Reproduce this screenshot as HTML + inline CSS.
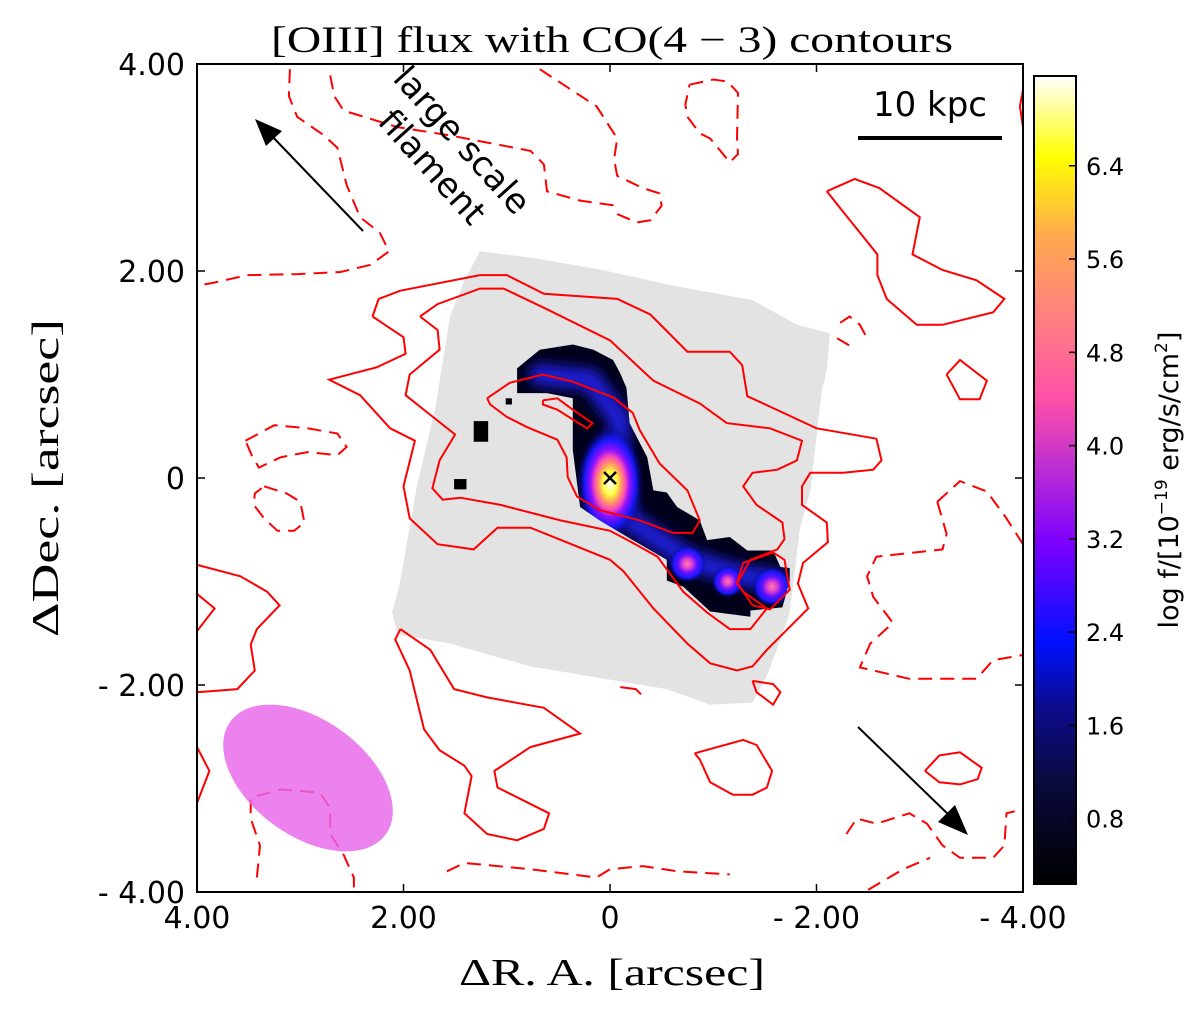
<!DOCTYPE html>
<html><head><meta charset="utf-8"><style>
html,body{margin:0;padding:0;background:#fff;}
svg{display:block;}
text{font-family:"DejaVu Sans","Liberation Sans",sans-serif;}
.serif{font-family:"Liberation Serif","DejaVu Serif",serif;}
</style></head><body>
<svg id="chart" width="1200" height="1018" viewBox="0 0 1200 1018" xmlns="http://www.w3.org/2000/svg">
<defs>
<linearGradient id="cbgrad" x1="0" y1="1" x2="0" y2="0">
<stop offset="0" stop-color="#000000"/>
<stop offset="0.13" stop-color="#0a0a40"/>
<stop offset="0.22" stop-color="#0c0c90"/>
<stop offset="0.3" stop-color="#0010ff"/>
<stop offset="0.42" stop-color="#7a00ff"/>
<stop offset="0.52" stop-color="#c030d0"/>
<stop offset="0.6" stop-color="#ff50a8"/>
<stop offset="0.7" stop-color="#ff8080"/>
<stop offset="0.8" stop-color="#ffa850"/>
<stop offset="0.9" stop-color="#ffff00"/>
<stop offset="1" stop-color="#ffffff"/>
</linearGradient>
<radialGradient id="knotgrad">
<stop offset="0" stop-color="#ffffff"/>
<stop offset="0.2" stop-color="#ffff40"/>
<stop offset="0.33" stop-color="#ffa060"/>
<stop offset="0.45" stop-color="#ff50b0"/>
<stop offset="0.58" stop-color="#9010ff"/>
<stop offset="0.75" stop-color="#1818ff"/>
<stop offset="1" stop-color="#000060" stop-opacity="0"/>
</radialGradient>
<radialGradient id="knotgrad2">
<stop offset="0" stop-color="#ff80a0"/>
<stop offset="0.25" stop-color="#e040d0"/>
<stop offset="0.5" stop-color="#6010ff"/>
<stop offset="0.75" stop-color="#1818ff"/>
<stop offset="1" stop-color="#000060" stop-opacity="0"/>
</radialGradient>
<filter id="blur6"><feGaussianBlur stdDeviation="6"/></filter>
<clipPath id="plotclip"><rect x="197" y="64" width="826" height="828"/></clipPath>
<clipPath id="blobclip"><path id="blobclippath" d=""/></clipPath>
</defs>
<g id="plot" clip-path="url(#plotclip)"></g>
<g id="overlay"></g>
</svg>
<script>
// ---- data (arcsec: [dRA, dDec]) ----
const maskRegion = [[1.26,2.19],[0.77,2.13],[0.07,2.01],[-0.65,1.85],[-1.38,1.72],[-1.81,1.48],[-2.13,1.40],[-2.10,1.04],[-2.05,0.84],[-1.94,-0.13],[-1.84,-0.48],[-1.74,-1.30],[-1.67,-1.51],[-1.52,-1.91],[-1.38,-2.17],[-0.97,-2.19],[-0.55,-2.04],[-0.07,-1.96],[0.77,-1.82],[1.16,-1.71],[1.55,-1.60],[2.06,-1.51],[2.11,-1.30],[2.04,-1.04],[1.87,-0.08],[1.69,0.69],[1.55,1.56],[1.41,1.91]];
const emissionRegion = [[0.90,1.06],[0.68,1.24],[0.36,1.29],[0.16,1.24],[-0.03,1.14],[-0.10,1.01],[-0.16,0.87],[-0.19,0.53],[-0.36,0.20],[-0.42,-0.12],[-0.55,-0.14],[-0.65,-0.28],[-0.87,-0.41],[-0.94,-0.60],[-1.16,-0.57],[-1.33,-0.70],[-1.58,-0.70],[-1.65,-0.86],[-1.74,-0.87],[-1.74,-0.99],[-1.67,-1.25],[-1.36,-1.28],[-1.36,-1.34],[-0.97,-1.29],[-0.71,-1.05],[-0.55,-0.99],[-0.55,-0.79],[-0.22,-0.60],[0.10,-0.41],[0.29,-0.28],[0.36,0.27],[0.36,0.69],[0.36,0.77],[0.61,0.82],[0.90,0.82]];
const emissionRidge = [[0.68,1.00],[0.19,0.95],[-0.10,0.56],[-0.05,0.08],[-0.19,-0.41],[-0.77,-0.79],[-1.26,-0.94],[-1.60,-0.99]];
const emissionSpecks = [[1.25,0.45],[1.45,-0.06],[0.98,0.74]];
const speckSize = [[0.14,0.2],[0.12,0.1],[0.06,0.06]];
const knotRA = [0.0, -0.75, -1.14, -1.57];
const knotDec = [-0.05, -0.83, -1.00, -1.05];
const knotPeak = [7.0, 4.4, 3.4, 4.9];
const cbTicks = [0.8, 1.6, 2.4, 3.2, 4.0, 4.8, 5.6, 6.4];
const cbMin = 0.24, cbMax = 7.17;
const xTicks = [4, 2, 0, -2, -4];
const xTickLabels = ["4.00", "2.00", "0", "- 2.00", "- 4.00"];
const yTicks = [4, 2, 0, -2, -4];
const yTickLabels = ["4.00", "2.00", "0", "- 2.00", "- 4.00"];

const solidContours = [
 [[2.30,1.56],[2.24,1.73],[2.03,1.81],[1.26,1.96],[1.00,1.96],[0.64,1.78],[-0.07,1.73],[-0.39,1.58],[-0.75,1.22],[-1.16,1.22],[-1.28,1.09],[-1.33,0.79],[-1.55,0.69],[-2.00,0.48],[-2.58,0.38],[-2.63,0.17],[-2.55,0.08],[-2.26,0.05],[-1.94,0.05],[-1.86,-0.08],[-1.86,-0.26],[-2.10,-0.43],[-2.11,-0.62],[-1.87,-0.82],[-1.82,-1.02],[-1.92,-1.26],[-1.67,-1.51],[-1.52,-1.66],[-1.38,-1.82],[-1.23,-1.86],[-0.97,-1.79],[-0.75,-1.60],[-0.42,-1.26],[-0.13,-0.90],[0,-0.79],[0.77,-0.48],[1.09,-0.48],[1.32,-0.69],[1.67,-0.64],[1.94,-0.39],[2.00,-0.08],[1.89,0.36],[2.13,0.48],[2.42,0.80],[2.72,0.95],[2.26,1.07],[1.98,1.20],[2.00,1.36],[2.30,1.56]],
 [[1.84,1.56],[1.67,1.68],[1.26,1.83],[1.03,1.83],[0.61,1.63],[0,1.33],[-0.42,0.94],[-0.87,0.72],[-1.13,0.53],[-1.55,0.48],[-1.86,0.36],[-1.81,0.17],[-1.62,0.08],[-1.38,0.05],[-1.29,-0.08],[-1.42,-0.26],[-1.67,-0.43],[-1.69,-0.59],[-1.62,-0.69],[-1.36,-0.79],[-1.23,-1.02],[-1.29,-1.10],[-1.52,-1.26],[-1.36,-1.46],[-1.16,-1.46],[-0.94,-1.30],[-0.71,-1.10],[-0.46,-0.76],[-0.19,-0.61],[0,-0.51],[0.48,-0.41],[1.06,-0.26],[1.45,-0.19],[1.62,-0.21],[1.72,-0.10],[1.65,0.17],[1.50,0.42],[1.74,0.61],[1.98,0.80],[1.94,1.00],[1.65,1.24],[1.67,1.43],[1.84,1.56]],
 [[1.19,0.77],[0.97,0.92],[0.65,1.00],[0.36,0.93],[-0.03,0.78],[-0.22,0.63],[-0.29,0.46],[-0.48,0.14],[-0.75,-0.12],[-0.87,-0.41],[-0.80,-0.53],[-0.61,-0.53],[-0.29,-0.41],[0.10,-0.31],[0.32,-0.18],[0.41,0.01],[0.42,0.20],[0.51,0.37],[0.80,0.49],[1.00,0.59],[1.16,0.71],[1.19,0.77]],
 [[0.65,0.75],[0.51,0.77],[0.36,0.66],[0.17,0.53],[0.22,0.48],[0.32,0.54],[0.51,0.66],[0.65,0.71],[0.65,0.75]],
 [[-1.23,-1.01],[-1.29,-0.82],[-1.58,-0.72],[-1.69,-0.79],[-1.74,-1.08],[-1.55,-1.27],[-1.38,-1.23],[-1.23,-1.01]],
 [[-2.10,2.77],[-2.37,2.89],[-2.61,2.80],[-3.00,2.52],[-2.93,2.16],[-3.22,2.01],[-3.55,1.91],[-3.82,1.73],[-3.71,1.60],[-3.22,1.48],[-2.97,1.48],[-2.68,1.73],[-2.59,1.96],[-2.59,2.16],[-2.26,2.57],[-2.10,2.77]],
 [[-3.26,1.00],[-3.39,1.14],[-3.65,0.94],[-3.58,0.76],[-3.39,0.76],[-3.26,1.00]],
 [[-0.82,-2.66],[-1.29,-2.53],[-1.42,-2.58],[-1.57,-2.83],[-1.52,-2.99],[-1.38,-3.06],[-1.19,-3.06],[-0.97,-2.94],[-0.87,-2.72],[-0.82,-2.66]],
 [[-1.38,-1.96],[-1.58,-1.99],[-1.65,-2.07],[-1.58,-2.19],[-1.42,-2.07],[-1.38,-1.96]],
 [[-3.05,-2.83],[-3.19,-2.68],[-3.39,-2.65],[-3.60,-2.80],[-3.56,-2.91],[-3.39,-2.96],[-3.19,-2.94],[-3.05,-2.83]],
 [[4.0,-0.84],[3.58,-0.95],[3.32,-1.10],[3.20,-1.23],[3.42,-1.46],[3.48,-1.61],[3.44,-1.86],[3.61,-2.04],[4.0,-2.07]],
 [[4.0,-1.12],[3.83,-1.26],[4.0,-1.48]],
 [[4.0,-2.60],[3.88,-2.83],[4.0,-3.14]],
 [[2.03,-1.46],[2.08,-1.56],[1.94,-1.86],[1.80,-2.43],[1.65,-2.63],[1.41,-2.78],[1.34,-2.88],[1.41,-3.24],[1.19,-3.44],[0.90,-3.50],[0.64,-3.39],[0.59,-3.24],[1.09,-2.99],[1.12,-2.83],[0.77,-2.60],[0.29,-2.47],[0.64,-2.22],[1.19,-2.12],[1.51,-2.04],[1.74,-1.66],[2.03,-1.46]],
 [[-4.0,3.75],[-3.97,3.59],[-4.0,3.39]],
 [[-0.10,-2.02],[-0.25,-2.04],[-0.30,-2.09]]
];
const dashedContours = [
 [[3.10,3.95],[3.11,3.69],[3.03,3.49],[2.77,3.31],[2.64,3.19],[2.55,2.83],[2.42,2.52],[2.23,2.37],[2.14,2.19],[2.32,2.06],[2.61,1.99],[3.03,1.97],[3.51,1.96],[3.87,1.88],[4.0,1.86]],
 [[2.71,3.89],[2.67,3.69],[2.58,3.55],[2.06,3.39],[1.55,3.31],[0.77,3.16],[0.64,3.03],[0.61,2.77],[0.29,2.68],[-0.07,2.63]],
 [[0.68,3.95],[0.45,3.80],[0.13,3.59],[-0.07,3.28],[-0.04,3.08],[-0.07,2.92],[-0.32,2.80],[-0.48,2.75],[-0.50,2.63],[-0.39,2.49],[-0.26,2.47],[-0.07,2.55]],
 [[-0.77,3.80],[-1.00,3.85],[-1.14,3.83],[-1.24,3.72],[-1.23,3.28],[-1.24,3.13],[-1.16,3.05],[-0.97,3.28],[-0.87,3.33],[-0.75,3.49],[-0.73,3.61],[-0.77,3.80]],
 [[3.53,0.36],[3.25,0.51],[2.93,0.48],[2.64,0.43],[2.55,0.30],[2.64,0.22],[2.93,0.25],[3.19,0.20],[3.40,0.10],[3.47,0.22],[3.53,0.36]],
 [[3.35,-0.08],[3.13,-0.15],[3.00,-0.23],[2.96,-0.43],[3.06,-0.51],[3.22,-0.51],[3.35,-0.39],[3.45,-0.26],[3.44,-0.15],[3.35,-0.08]],
 [[3.42,-3.86],[3.39,-3.55],[3.48,-3.29],[3.48,-3.09],[3.19,-3.01],[2.81,-3.04],[2.71,-3.19],[2.71,-3.44],[2.58,-3.64],[2.48,-3.86],[2.48,-4.0]],
 [[1.58,-3.80],[1.41,-3.72],[0.77,-3.78],[0.13,-3.86],[0,-3.78],[-0.32,-3.75],[-0.65,-3.80],[-1.16,-3.83]],
 [[-3.17,-0.23],[-3.39,-0.03],[-3.65,-0.13],[-3.84,-0.39],[-4.0,-0.64]],
 [[-3.17,-0.23],[-3.26,-0.54],[-3.22,-0.69],[-2.58,-0.76],[-2.49,-0.95],[-2.55,-1.15],[-2.74,-1.40],[-2.52,-1.60],[-2.42,-1.83],[-2.90,-1.94],[-3.55,-1.94],[-3.71,-1.76],[-4.0,-1.71]],
 [[-2.23,1.50],[-2.32,1.56],[-2.42,1.48],[-2.49,1.35]],
 [[-2.20,1.35],[-2.37,1.25]],
 [[-2.29,-3.44],[-2.39,-3.29],[-2.58,-3.34],[-2.90,-3.24],[-3.07,-3.34],[-3.22,-3.55],[-3.39,-3.67],[-3.71,-3.67],[-3.82,-3.55],[-3.84,-3.24],[-3.92,-3.22]],
 [[-2.50,-3.98],[-2.84,-3.78],[-3.10,-3.67]]
];

// ---- axes ----
const X0 = 197, X1 = 1023, Y0 = 64, Y1 = 892;
function xs(ra){ return X0 + (4 - ra) / 8 * (X1 - X0); }
function ys(dec){ return Y0 + (4 - dec) / 8 * (Y1 - Y0); }
const PX = (X1 - X0) / 8;
const CBX = 1034, CBW = 42, CBT = 76, CBB = 884;
function cbY(v){ return CBB - (v - cbMin) / (cbMax - cbMin) * (CBB - CBT); }
function pathFrom(pts, close){ return pts.map((p,i)=>(i?'L':'M')+xs(p[0]).toFixed(1)+','+ys(p[1]).toFixed(1)).join(' ')+(close?' Z':''); }
const NS='http://www.w3.org/2000/svg';
function mk(tag, parent){ const e=document.createElementNS(NS,tag); parent.appendChild(e); return e; }
const plot=document.getElementById('plot');
const overlay=document.getElementById('overlay');

// mask
const mask=mk('path',plot);
mask.setAttribute('d',pathFrom(maskRegion,true));
mask.setAttribute('fill','#e3e3e3');



// emission
document.getElementById('blobclippath').setAttribute('d',pathFrom(emissionRegion,true));
const emis=mk('g',plot);


const blob=mk('path',emis);
blob.setAttribute('d',pathFrom(emissionRegion,true));
blob.setAttribute('fill','#00001a');


const glowG=mk('g',emis); glowG.setAttribute('clip-path','url(#blobclip)');
const ridge=mk('path',glowG);
ridge.setAttribute('d',pathFrom(emissionRidge,false));
ridge.setAttribute('fill','none'); ridge.setAttribute('stroke','#1c1cd0'); ridge.setAttribute('stroke-width','22'); ridge.setAttribute('stroke-linecap','round'); ridge.setAttribute('filter','url(#blur6)');


knotRA.forEach((ra,i)=>{
  const s=(knotPeak[i]-0.24)/(7.17-0.24);
  const e=mk('ellipse',glowG);
  e.setAttribute('cx',xs(ra)); e.setAttribute('cy',ys(knotDec[i]));
  const main = knotPeak[i] > 6;
  e.setAttribute('rx',(main?34:8+18*s).toFixed(1)); e.setAttribute('ry',(main?58:8+18*s).toFixed(1));
  e.setAttribute('fill',main?'url(#knotgrad)':'url(#knotgrad2)');
  
  
});
emissionSpecks.forEach((p,i)=>{
  const r=mk('rect',emis);
  const w=speckSize[i][0]*PX, h=speckSize[i][1]*PX;
  r.setAttribute('x',xs(p[0])-w/2); r.setAttribute('y',ys(p[1])-h/2); r.setAttribute('width',w); r.setAttribute('height',h); r.setAttribute('fill','#000');
  
  
});

// contours
solidContours.forEach(c=>{
  const p=mk('path',plot);
  p.setAttribute('d',pathFrom(c,false));
  p.setAttribute('fill','none'); p.setAttribute('stroke','#ff0000'); p.setAttribute('stroke-width','2');
  
  
});
dashedContours.forEach(c=>{
  const p=mk('path',plot);
  p.setAttribute('d',pathFrom(c,false));
  p.setAttribute('fill','none'); p.setAttribute('stroke','#ff0000'); p.setAttribute('stroke-width','2'); p.setAttribute('stroke-dasharray','14,8');
  
  
});

// center marker
const cm=mk('path',plot);
cm.setAttribute('d','M'+(xs(0)-6)+','+(ys(0)-6)+' l12,12 M'+(xs(0)+6)+','+(ys(0)-6)+' l-12,12');
cm.setAttribute('stroke','#000'); cm.setAttribute('stroke-width','2.5');



// ticks & labels
xTicks.forEach((t,i)=>{
  const x=xs(t);
  ['top','bottom'].forEach(side=>{
    const l=mk('line',overlay);
    const y=side==='top'?Y0:Y1;
    l.setAttribute('x1',x); l.setAttribute('x2',x); l.setAttribute('y1',y); l.setAttribute('y2',side==='top'?y+8:y-8);
    l.setAttribute('stroke','#000'); l.setAttribute('stroke-width','1.5');
    
    
  });
  const tx=mk('text',overlay);
  tx.setAttribute('x',x); tx.setAttribute('y',928); tx.setAttribute('text-anchor','middle'); tx.setAttribute('font-size','30');
  tx.textContent=xTickLabels[i];
  
  
});
yTicks.forEach((t,i)=>{
  const y=ys(t);
  ['left','right'].forEach(side=>{
    const l=mk('line',overlay);
    const x=side==='left'?X0:X1;
    l.setAttribute('x1',x); l.setAttribute('x2',side==='left'?x+8:x-8); l.setAttribute('y1',y); l.setAttribute('y2',y);
    l.setAttribute('stroke','#000'); l.setAttribute('stroke-width','1.5');
    
    
  });
  const tx=mk('text',overlay);
  tx.setAttribute('x',185); tx.setAttribute('y',y+11); tx.setAttribute('text-anchor','end'); tx.setAttribute('font-size','30');
  tx.textContent=yTickLabels[i];
  
  
});

// colorbar
const cbr=mk('rect',overlay);
cbr.setAttribute('x',CBX); cbr.setAttribute('y',CBT); cbr.setAttribute('width',CBW); cbr.setAttribute('height',CBB-CBT);
cbr.setAttribute('fill','url(#cbgrad)'); cbr.setAttribute('stroke','#000'); cbr.setAttribute('stroke-width','2');


cbTicks.forEach(v=>{
  const y=cbY(v);
  const l=mk('line',overlay);
  l.setAttribute('x1',CBX+CBW-7); l.setAttribute('x2',CBX+CBW); l.setAttribute('y1',y); l.setAttribute('y2',y);
  l.setAttribute('stroke','#000'); l.setAttribute('stroke-width','1.5');
  
  
  const tx=mk('text',overlay);
  tx.setAttribute('x',1086); tx.setAttribute('y',y+9); tx.setAttribute('font-size','24');
  tx.textContent=v.toFixed(1);
  
  
});
</script>
<svg style="position:absolute;left:0;top:0" width="1200" height="1018" viewBox="0 0 1200 1018" xmlns="http://www.w3.org/2000/svg">
<ellipse cx="308" cy="778" rx="96" ry="58" transform="rotate(36 308 778)" fill="#e766e9" fill-opacity="0.82"/>
<rect x="197" y="64" width="826" height="828" fill="none" stroke="#000" stroke-width="2"/>
<text class="serif" x="612" y="52" text-anchor="middle" font-size="37" textLength="682" lengthAdjust="spacingAndGlyphs">[OIII] flux with CO(4 − 3) contours</text>
<text class="serif" x="612" y="985" text-anchor="middle" font-size="38" textLength="306" lengthAdjust="spacingAndGlyphs">ΔR. A. [arcsec]</text>
<text class="serif" transform="translate(58 478) rotate(-90)" text-anchor="middle" font-size="38" textLength="318" lengthAdjust="spacingAndGlyphs">ΔDec. [arcsec]</text>
<text transform="translate(1178 480) rotate(-90)" text-anchor="middle" font-size="27">log f/[10<tspan font-size="17" dy="-11">−19</tspan><tspan dy="11"> erg/s/cm</tspan><tspan font-size="17" dy="-11">2</tspan><tspan dy="11">]</tspan></text>
<text x="930" y="116" text-anchor="middle" font-size="34">10 kpc</text>
<line x1="858" y1="138" x2="1002" y2="138" stroke="#000" stroke-width="4"/>
<g>
<line x1="363" y1="231" x2="268" y2="132" stroke="#000" stroke-width="2"/>
<polygon points="255,119 282,131 266,146" fill="#000"/>
</g>
<g>
<line x1="858" y1="727" x2="952" y2="818" stroke="#000" stroke-width="2"/>
<polygon points="968,835 938,822 955,805" fill="#000"/>
</g>
<text transform="translate(440 160) rotate(48)" text-anchor="middle" font-size="34"><tspan x="0" y="-18">large scale</tspan><tspan x="0" y="22">filament</tspan></text>
</svg>
</body></html>
